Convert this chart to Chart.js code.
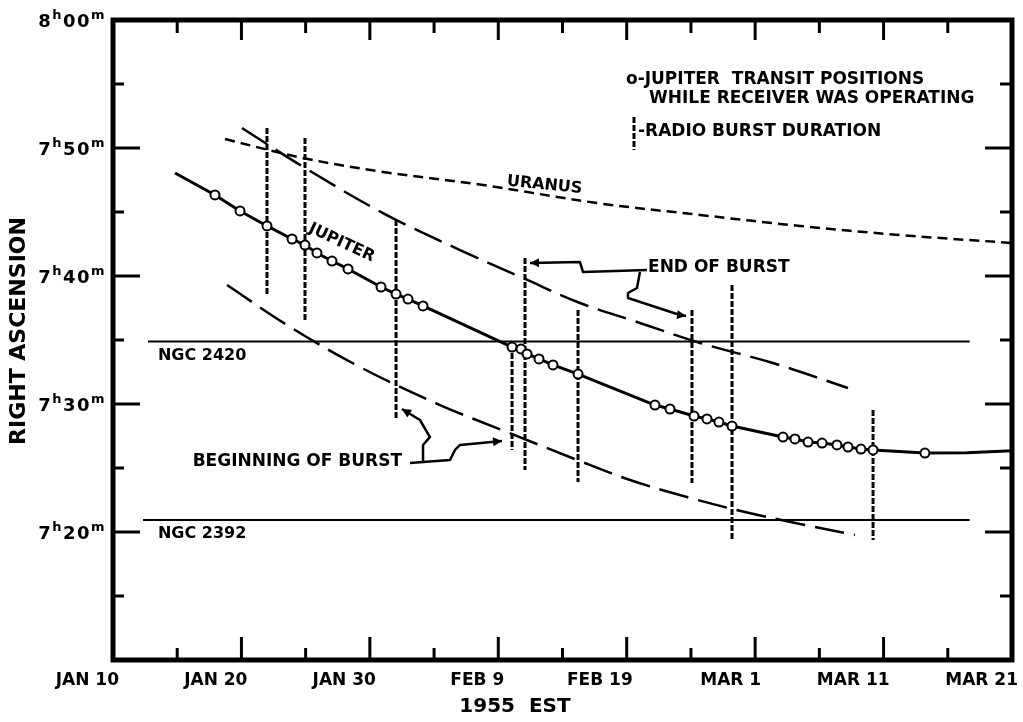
<!DOCTYPE html>
<html>
<head>
<meta charset="utf-8">
<script src="https://cdn.jsdelivr.net/npm/chart.js@4/dist/chart.umd.min.js"></script>
<style>
  html, body { margin: 0; padding: 0; background: #fff; }
  #wrap { width: 1023px; height: 722px; }
</style>
</head>
<body>
<div id="wrap"><canvas id="c" width="1023" height="722"></canvas></div>
<script>
// Days are counted from 0 Jan 1955 (Jan 10 = 10, Feb 9 = 40, Mar 1 = 60).
// Right ascension is given in minutes after 7h (60 = 8h00m).
const dayTicks = [10, 20, 30, 40, 50, 60, 70, 80];
const dayTickLabels = ['JAN 10', 'JAN 20', 'JAN 30', 'FEB 9', 'FEB 19', 'MAR 1', 'MAR 11', 'MAR 21'];
const raTicks = [20, 30, 40, 50, 60];
const raTickHours = ['7', '7', '7', '7', '8'];
const raTickMinutes = ['20', '30', '40', '50', '00'];

// Jupiter transit positions while the receiver was operating
const transitDays = [17.94, 19.89, 21.99, 23.94, 24.95, 25.88, 27.05, 28.30, 30.87, 32.04, 32.97, 34.14,
  41.07, 41.77, 42.24, 43.17, 44.26, 46.21, 52.20, 53.37, 55.24, 56.25, 57.18, 58.20,
  62.17, 63.10, 64.12, 65.21, 66.37, 67.23, 68.24, 69.18, 73.22];
const transitRA = [46.33, 45.08, 43.91, 42.89, 42.42, 41.80, 41.17, 40.55, 39.14, 38.59, 38.20, 37.66,
  34.45, 34.30, 33.91, 33.52, 33.05, 32.34, 29.92, 29.61, 29.06, 28.83, 28.59, 28.28,
  27.42, 27.27, 27.03, 26.95, 26.80, 26.64, 26.48, 26.41, 26.17];

// Ends of the Jupiter track beyond the first and last transits
const jupiterHeadDays = [14.83];
const jupiterHeadRA = [48.05];
const jupiterTailDays = [76.5, 80];
const jupiterTailRA = [26.2, 26.35];

// Uranus track
const uranusDays = [18.72, 24.79, 31.02, 38.81, 47.69, 55.71, 63.49, 71.28, 80];
const uranusRA = [50.70, 49.22, 48.13, 47.11, 45.70, 44.77, 43.91, 43.20, 42.58];

// Envelope of burst endings (upper) and beginnings (lower)
const endDays = [20.04, 24.95, 31.02, 37.02, 42.08, 46.36, 50.80, 55.71, 61.39, 67.23];
const endRA = [51.56, 48.44, 44.92, 42.03, 39.77, 37.89, 36.41, 34.77, 33.20, 31.25];
const beginDays = [18.88, 23.55, 29.23, 35.46, 40.68, 46.13, 50.26, 54.69, 59.21, 63.49, 67.77];
const beginRA = [39.30, 36.17, 32.89, 29.92, 27.81, 25.63, 24.06, 22.73, 21.56, 20.63, 19.77];

// Radio burst durations (vertical bars)
const burstDays = [21.99, 24.95, 32.04, 41.07, 42.08, 46.21, 55.08, 58.20, 69.18];
const burstTop = [51.56, 50.78, 44.38, 34.61, 41.41, 37.34, 37.34, 39.30, 29.53];
const burstBottom = [38.52, 36.41, 28.91, 26.41, 24.84, 23.91, 23.83, 19.38, 19.38];

// Reference objects
const ngcNames = ['NGC 2420', 'NGC 2392'];
const ngcRA = [34.88, 20.94];
const ngcFrom = [12.73, 12.34];
const ngcTo = [76.7, 76.7];

const FONT = '"DejaVu Sans", "Liberation Sans", sans-serif';
const INK = '#000';

const pts = (xs, ys) => xs.map((x, i) => ({ x: x, y: ys[i] }));

const datasets = [];
datasets.push({
  label: 'Jupiter transit positions',
  data: pts(transitDays, transitRA),
  showLine: false,
  pointRadius: 4.5,
  pointBackgroundColor: '#fff',
  pointBorderColor: INK,
  pointBorderWidth: 2
});
datasets.push({
  label: 'Jupiter',
  data: pts(jupiterHeadDays.concat(transitDays, jupiterTailDays), jupiterHeadRA.concat(transitRA, jupiterTailRA)),
  showLine: true,
  borderColor: INK,
  borderWidth: 3,
  borderJoinStyle: 'round',
  pointRadius: 0,
  tension: 0
});
burstDays.forEach((d, i) => {
  datasets.push({
    label: 'Radio burst ' + (i + 1),
    data: [{ x: d, y: burstTop[i] }, { x: d, y: burstBottom[i] }],
    showLine: true,
    borderColor: INK,
    borderWidth: 3,
    borderDash: [6, 2],
    pointRadius: 0
  });
});
datasets.push({
  label: 'Uranus',
  data: pts(uranusDays, uranusRA),
  showLine: true,
  borderColor: INK,
  borderWidth: 2.5,
  borderDash: [10, 6],
  pointRadius: 0,
  tension: 0.35
});
datasets.push({
  label: 'End of burst',
  data: pts(endDays, endRA),
  showLine: true,
  borderColor: INK,
  borderWidth: 2.5,
  borderDash: [30, 10],
  pointRadius: 0,
  tension: 0.35
});
datasets.push({
  label: 'Beginning of burst',
  data: pts(beginDays, beginRA),
  showLine: true,
  borderColor: INK,
  borderWidth: 2.5,
  borderDash: [30, 10],
  pointRadius: 0,
  tension: 0.35
});
ngcNames.forEach((n, i) => {
  datasets.push({
    label: n,
    data: [{ x: ngcFrom[i], y: ngcRA[i] }, { x: ngcTo[i], y: ngcRA[i] }],
    showLine: true,
    borderColor: INK,
    borderWidth: 2,
    pointRadius: 0
  });
});

// Hand-drawn leader lines from the captions to the bursts, in data units (day, RA minutes)
const leaders = [
  [[51.58, 40.47], [46.60, 40.31], [46.36, 41.09], [42.47, 41.02]],
  [[51.03, 40.31], [50.80, 39.06], [50.10, 38.67], [50.10, 38.28], [54.15, 36.95], [54.62, 36.88]],
  [[33.13, 25.39], [34.14, 25.47], [34.14, 26.80], [34.68, 27.42], [33.90, 28.75], [32.50, 29.61]],
  [[34.14, 25.47], [36.24, 25.63], [36.63, 26.41], [37.02, 26.80], [40.29, 27.11]]
];

function bold(size) { return 'bold ' + size + 'px ' + FONT; }

function arrowHead(ctx, x0, y0, x1, y1) {
  const a = Math.atan2(y1 - y0, x1 - x0);
  const L = 9, W = 4.5;
  ctx.beginPath();
  ctx.moveTo(x1, y1);
  ctx.lineTo(x1 - L * Math.cos(a) + W * Math.sin(a), y1 - L * Math.sin(a) - W * Math.cos(a));
  ctx.lineTo(x1 - L * Math.cos(a) - W * Math.sin(a), y1 - L * Math.sin(a) + W * Math.cos(a));
  ctx.closePath();
  ctx.fill();
}

const decor = {
  id: 'decor',
  afterDatasetsDraw(chart) {
    const ctx = chart.ctx;
    const xs = chart.scales.x, ys = chart.scales.y;
    const X = v => xs.getPixelForValue(v);
    const Y = v => ys.getPixelForValue(v);
    const a = chart.chartArea;
    ctx.save();
    ctx.strokeStyle = INK;
    ctx.fillStyle = INK;

    // frame
    ctx.lineWidth = 5;
    ctx.lineCap = 'square';
    ctx.strokeRect(a.left, a.top, a.right - a.left, a.bottom - a.top);

    // inward tick marks
    ctx.lineWidth = 3;
    ctx.lineCap = 'butt';
    for (let d = 15; d < 80; d += 5) {
      const major = d % 10 === 0;
      const px = X(d);
      ctx.beginPath();
      ctx.moveTo(px, a.bottom); ctx.lineTo(px, a.bottom - (major ? 23 : 12));
      ctx.moveTo(px, a.top); ctx.lineTo(px, a.top + (major ? 20 : 13));
      ctx.stroke();
    }
    for (let m = 15; m < 60; m += 5) {
      const major = m % 10 === 0;
      const py = Y(m);
      ctx.beginPath();
      ctx.moveTo(a.left, py); ctx.lineTo(a.left + (major ? 27 : 11), py);
      ctx.moveTo(a.right, py); ctx.lineTo(a.right - (major ? 27 : 12), py);
      ctx.stroke();
    }

    // right ascension tick labels with superscript h and m
    const gap = 1.5;
    raTicks.forEach((v, i) => {
      const py = Y(v) + 7;
      const parts = [[raTickHours[i], 18, 0], ['h', 13, -8], [raTickMinutes[i], 18, 0], ['m', 13, -8]];
      let w = 0;
      parts.forEach(p => {
        ctx.font = bold(p[1]);
        for (const ch of p[0]) w += ctx.measureText(ch).width + gap;
      });
      let x = 106 - w;
      ctx.textAlign = 'left';
      ctx.textBaseline = 'alphabetic';
      parts.forEach(p => {
        ctx.font = bold(p[1]);
        for (const ch of p[0]) {
          ctx.fillText(ch, x, py + p[2]);
          x += ctx.measureText(ch).width + gap;
        }
      });
    });

    // axis titles
    ctx.font = bold(22);
    ctx.textAlign = 'center';
    ctx.textBaseline = 'middle';
    ctx.save();
    ctx.translate(19, 331);
    ctx.rotate(-Math.PI / 2);
    ctx.fillText('RIGHT ASCENSION', 0, 0);
    ctx.restore();
    ctx.font = bold(20);
    ctx.fillText('1955  EST', 515, 707);

    // legend
    ctx.font = bold(17);
    ctx.textAlign = 'left';
    ctx.fillText('o-JUPITER  TRANSIT POSITIONS', 626, 80);
    ctx.fillText('WHILE RECEIVER WAS OPERATING', 649, 99);
    ctx.fillText('-RADIO BURST DURATION', 638, 132);
    ctx.save();
    ctx.lineWidth = 3;
    ctx.setLineDash([6, 2]);
    ctx.beginPath();
    ctx.moveTo(634, 117); ctx.lineTo(634, 150);
    ctx.stroke();
    ctx.restore();

    // object labels
    ctx.font = bold(16);
    ctx.textAlign = 'left';
    ctx.fillText(ngcNames[0], X(13.5), Y(ngcRA[0]) + 14);
    ctx.fillText(ngcNames[1], X(13.5), Y(ngcRA[1]) + 14);

    ctx.font = bold(16);
    ctx.textAlign = 'center';
    ctx.save();
    ctx.translate(X(27.8), Y(41.1) - 19);
    ctx.rotate(0.44);
    ctx.fillText('JUPITER', 0, 0);
    ctx.restore();
    ctx.save();
    ctx.translate(X(43.6), Y(47.1));
    ctx.rotate(0.1);
    ctx.fillText('URANUS', 0, 0);
    ctx.restore();

    // captions with their leaders
    ctx.font = bold(17);
    ctx.textAlign = 'left';
    ctx.fillText('END OF BURST', X(51.66), Y(40.63));
    ctx.fillText('BEGINNING OF BURST', X(16.2), Y(25.5));

    ctx.lineWidth = 2.5;
    ctx.lineJoin = 'round';
    leaders.forEach(path => {
      const p = path.map(q => [X(q[0]), Y(q[1])]);
      ctx.beginPath();
      ctx.moveTo(p[0][0], p[0][1]);
      for (let k = 1; k < p.length; k++) ctx.lineTo(p[k][0], p[k][1]);
      ctx.stroke();
      const n = p.length;
      arrowHead(ctx, p[n - 2][0], p[n - 2][1], p[n - 1][0], p[n - 1][1]);
    });

    ctx.restore();
  }
};

new Chart(document.getElementById('c'), {
  type: 'scatter',
  data: { datasets: datasets },
  options: {
    responsive: false,
    animation: false,
    events: [],
    layout: { padding: { left: 0, right: 11, top: 20, bottom: 0 } },
    plugins: { legend: { display: false }, tooltip: { enabled: false } },
    scales: {
      x: {
        type: 'linear',
        min: 10,
        max: 80,
        afterBuildTicks: s => { s.ticks = dayTicks.map(v => ({ value: v })); },
        afterFit: s => { s.height = 62; },
        grid: { display: false, drawTicks: false },
        border: { display: false },
        ticks: {
          autoSkip: false,
          maxRotation: 0,
          align: 'end',
          labelOffset: 6,
          padding: 10,
          color: INK,
          font: { family: FONT, size: 17, weight: 'bold' },
          callback: v => dayTickLabels[dayTicks.indexOf(v)]
        }
      },
      y: {
        type: 'linear',
        min: 10,
        max: 60,
        afterFit: s => { s.width = 113; },
        grid: { display: false, drawTicks: false },
        border: { display: false },
        ticks: { display: false }
      }
    }
  },
  plugins: [decor]
});
</script>
</body>
</html>
